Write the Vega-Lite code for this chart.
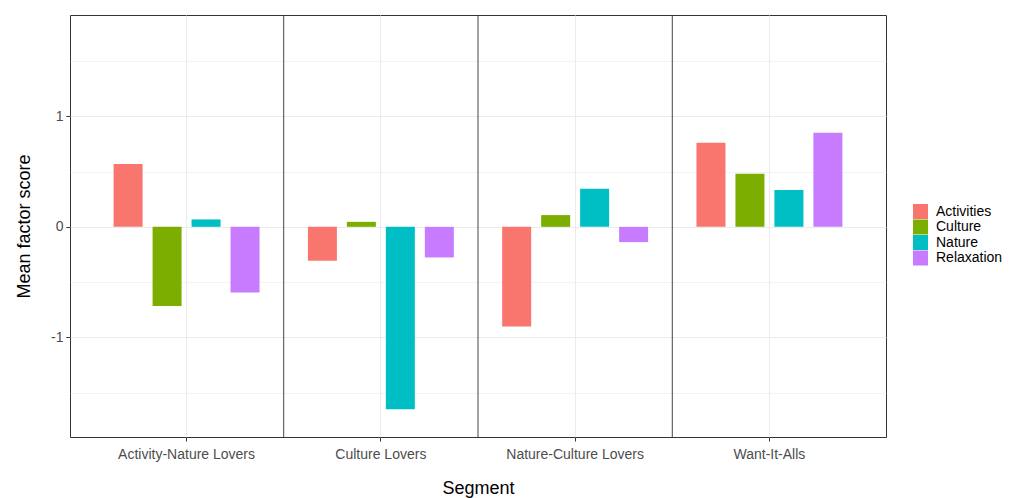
{
  "$schema": "https://vega.github.io/schema/vega-lite/v6.json",
  "width": 816,
  "height": 422,
  "autosize": {"type": "none"},
  "padding": {"left": 70, "top": 15, "right": 127, "bottom": 61},
  "background": "white",
  "config": {
    "font": "Liberation Sans",
    "view": {"stroke": "#333333", "strokeWidth": 1}
  },
  "data": {
    "values": [
      {"Segment": "Activity-Nature Lovers", "Factor": "Activities", "Score": 0.567},
      {"Segment": "Activity-Nature Lovers", "Factor": "Culture", "Score": -0.715},
      {"Segment": "Activity-Nature Lovers", "Factor": "Nature", "Score": 0.067},
      {"Segment": "Activity-Nature Lovers", "Factor": "Relaxation", "Score": -0.594},
      {"Segment": "Culture Lovers", "Factor": "Activities", "Score": -0.307},
      {"Segment": "Culture Lovers", "Factor": "Culture", "Score": 0.045},
      {"Segment": "Culture Lovers", "Factor": "Nature", "Score": -1.65},
      {"Segment": "Culture Lovers", "Factor": "Relaxation", "Score": -0.277},
      {"Segment": "Nature-Culture Lovers", "Factor": "Activities", "Score": -0.9},
      {"Segment": "Nature-Culture Lovers", "Factor": "Culture", "Score": 0.106},
      {"Segment": "Nature-Culture Lovers", "Factor": "Nature", "Score": 0.344},
      {"Segment": "Nature-Culture Lovers", "Factor": "Relaxation", "Score": -0.138},
      {"Segment": "Want-It-Alls", "Factor": "Activities", "Score": 0.76},
      {"Segment": "Want-It-Alls", "Factor": "Culture", "Score": 0.48},
      {"Segment": "Want-It-Alls", "Factor": "Nature", "Score": 0.332},
      {"Segment": "Want-It-Alls", "Factor": "Relaxation", "Score": 0.851}
    ]
  },
  "layer": [
    {
      "mark": {"type": "bar"},
      "encoding": {
        "x": {
          "field": "Segment",
          "type": "nominal",
          "sort": null,
          "scale": {"paddingInner": 0, "paddingOuter": 0.1},
          "axis": {
            "title": "Segment",
            "labelAngle": 0,
            "domain": false,
            "bandPosition": 0.5,
            "grid": true,
            "gridColor": "#EBEBEB",
            "gridWidth": 1,
            "tickColor": "#333333",
            "tickSize": 4,
            "labelColor": "#4D4D4D",
            "labelFontSize": 14,
            "labelPadding": 6,
            "titleFontSize": 18,
            "titleFontWeight": "normal",
            "titleColor": "#000000",
            "titlePadding": 18
          }
        },
        "xOffset": {
          "field": "Factor",
          "type": "nominal",
          "scale": {"paddingInner": 0.256, "paddingOuter": 0.62}
        },
        "y": {
          "field": "Score",
          "type": "quantitative",
          "scale": {"domain": [-1.9, 1.915], "nice": false, "zero": false},
          "axis": {
            "title": "Mean factor score",
            "values": [-1.5, -1, -0.5, 0, 0.5, 1, 1.5],
            "labelExpr": "datum.value % 1 === 0 ? '' + datum.value : ''",
            "domain": false,
            "grid": true,
            "gridColor": "#EBEBEB",
            "gridWidth": {"condition": {"test": "datum.value % 1 !== 0", "value": 0.6}, "value": 1.1},
            "tickColor": "#333333",
            "tickOpacity": {"condition": {"test": "datum.value % 1 !== 0", "value": 0}, "value": 1},
            "tickSize": 4,
            "labelColor": "#4D4D4D",
            "labelFontSize": 14,
            "labelPadding": 3,
            "titleFontSize": 18,
            "titleFontWeight": "normal",
            "titleColor": "#000000",
            "titlePadding": 17
          }
        },
        "color": {
          "field": "Factor",
          "type": "nominal",
          "scale": {
            "domain": ["Activities", "Culture", "Nature", "Relaxation"],
            "range": ["#F8766D", "#7CAE00", "#00BFC4", "#C77CFF"]
          },
          "legend": {
            "title": null,
            "orient": "none",
            "legendX": 843,
            "legendY": 189,
            "symbolType": "square",
            "symbolSize": 225,
            "symbolStrokeWidth": 0,
            "symbolOpacity": 1,
            "labelFontSize": 14,
            "labelColor": "#000000",
            "labelOffset": 8,
            "rowPadding": 0.5
          }
        }
      }
    },
    {
      "transform": [
        {"filter": "datum.Factor === 'Activities' && datum.Segment !== 'Activity-Nature Lovers'"}
      ],
      "mark": {"type": "rule", "color": "#444444", "strokeWidth": 1},
      "encoding": {
        "x": {"field": "Segment", "type": "nominal", "sort": null, "bandPosition": 0}
      }
    }
  ]
}
